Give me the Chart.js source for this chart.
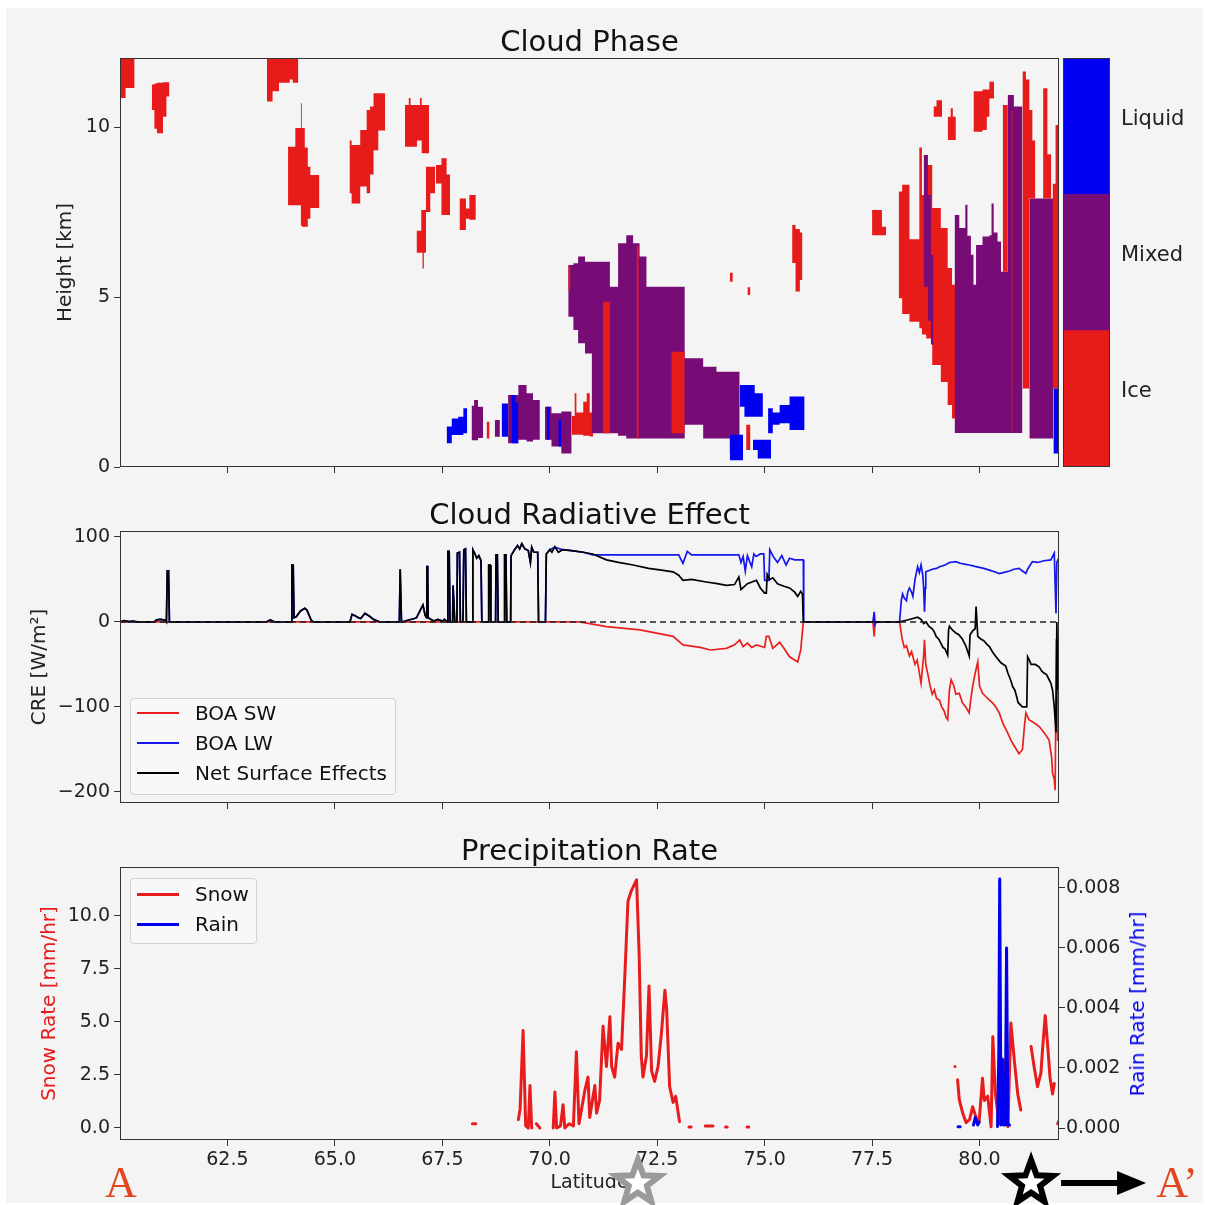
<!DOCTYPE html>
<html>
<head>
<meta charset="utf-8">
<script src="https://cdn.jsdelivr.net/npm/chart.js@4.4.1/dist/chart.umd.min.js"></script>
<style>
body { margin:0; background:#fff; width:1209px; height:1205px; position:relative; overflow:hidden; font-family:'DejaVu Sans', sans-serif; }
#bg { position:absolute; left:6px; top:8px; width:1197px; height:1195px; background:#f4f4f4; }
canvas { position:absolute; }
.legend { position:absolute; border:1px solid #d2d2d2; border-radius:4px; background:rgba(248,248,248,0.9); font-size:20px; color:#111; box-sizing:border-box; }
.legend .row { position:absolute; left:0; height:30px; display:flex; align-items:center; white-space:nowrap; }
.legend .sw { margin-left:6px; width:42px; margin-right:16px; }
.mark { position:absolute; transform:translate(-50%,-50%); font-family:'Liberation Serif', serif; font-size:44px; color:#e2461f; }
#rainTitle { position:absolute; left:1137px; top:1004px; transform:translate(-50%,-50%) rotate(-90deg); white-space:nowrap; font-size:20px; color:#0000ee; }
</style>
</head>
<body>
<div id="bg"></div>
<canvas id="phase" width="1179" height="490" style="left:0;top:0"></canvas>
<canvas id="cbar" width="169" height="490" style="left:1040px;top:0"></canvas>
<canvas id="cre" width="1179" height="345" style="left:0;top:480px"></canvas>
<canvas id="precip" width="1179" height="384" style="left:0;top:825px"></canvas>
<div class="legend" id="creLegend" style="left:130px;top:698px;width:266px;height:97px"></div>
<div class="legend" id="precipLegend" style="left:130px;top:878px;width:127px;height:66px"></div>
<div id="rainTitle">Rain Rate [mm/hr]</div>
<div class="mark" style="left:121px;top:1182px">A</div>
<div class="mark" style="left:1177px;top:1182px">A’</div>
<script>
// axes
const latTicks = [62.5, 65, 67.5, 70, 72.5, 75, 77.5, 80];
const heightTicks = [0, 5, 10];
const creTicks = [100, 0, -100, -200];
const snowTicks = [0, 2.5, 5, 7.5, 10];
const rainTicks = [0, 0.002, 0.004, 0.006, 0.008];

// cloud phase: [lat, bottom km, top km] per column step
const phaseNames = ['Ice', 'Mixed', 'Liquid'];
const phaseColors = ['#e81b1b', '#780c77', '#0000f2'];
const cbTicks = [0.55, 1.55, 2.55];

const iceCells = [
  [[60.0,10.85,12.1],[60.13,11.15,12.1],[60.34,11.15,12.1]],
  [[60.74,10.5,11.25],[60.8,9.95,11.28],[60.86,9.82,11.3],[61.0,10.3,11.32],[61.08,10.9,11.32],[61.15,10.9,11.32]],
  [[63.42,10.75,12.1],[63.55,11.05,12.1],[63.7,11.3,12.1],[63.95,11.4,12.1],[64.02,11.3,12.1],[64.15,11.3,12.1]],
  [[63.91,7.7,9.42],[64.08,7.7,9.97],[64.21,7.1,10.7],[64.23,7.07,9.97],[64.3,7.07,9.4],[64.37,7.3,8.83],[64.43,7.62,8.59],[64.64,7.62,8.59]],
  [[65.34,8.05,9.6],[65.39,7.75,9.47],[65.59,8.25,9.91],[65.74,8.05,10.5],[65.82,8.6,10.6],[65.9,9.32,10.99],[66.01,9.9,10.99],[66.17,9.9,10.99]],
  [[66.63,9.42,10.65],[66.72,9.42,10.85],[66.76,9.42,10.65],[66.91,9.6,10.65],[66.98,9.6,10.85],[67.02,9.23,10.65],[67.19,9.23,10.65]],
  [[66.9,6.3,6.95],[67.01,6.3,7.56],[67.04,5.84,7.56],[67.07,6.3,7.56],[67.12,7.5,8.83],[67.22,8.05,8.83],[67.33,8.05,8.83]],
  [[67.35,8.34,8.88],[67.48,7.41,9.08],[67.6,7.41,8.6],[67.68,7.41,8.6]],
  [[67.9,6.97,7.9],[68.05,7.3,7.6],[68.13,7.27,8.0],[68.28,7.27,8.0]],
  [[74.19,5.45,5.71],[74.26,5.45,5.71]],
  [[74.6,5.06,5.29],[74.67,5.06,5.29]],
  [[75.64,6.0,7.12],[75.72,5.16,7.0],[75.82,5.5,6.9],[75.88,5.5,6.9]],
  [[77.5,6.82,7.56],[77.73,6.82,7.07],[77.83,6.82,7.07]],
  [[78.12,4.96,8.1],[78.2,4.5,8.3],[78.37,4.27,6.7],[78.6,4.08,9.4],[78.66,3.9,8.0],[78.76,3.78,8.88],[78.9,3.0,7.62],[79.1,2.5,7.03],[79.26,1.82,5.85],[79.36,1.43,5.36],[79.45,1.43,5.36]],
  [[78.93,10.3,10.6],[79.0,10.3,10.79],[79.13,10.3,10.79]],
  [[79.26,9.62,10.3],[79.33,9.62,10.55],[79.38,9.62,10.3],[79.45,9.62,10.3]],
  [[79.86,9.86,11.05],[80.07,9.91,11.1],[80.17,10.3,11.1],[80.23,10.84,11.33],[80.34,10.84,11.33]],
  [[68.53,0.84,1.33],[68.6,0.84,1.33]],
  [[70.51,0.95,1.5],[70.58,0.95,2.17],[70.62,0.95,1.6],[70.78,0.92,1.92],[70.86,0.92,2.17],[70.93,0.9,1.6],[70.99,0.9,2.1],[71.01,0.9,2.1]],
  [[74.57,0.5,1.24],[74.67,0.5,1.24]]
];
const mixedCells = [
  [[68.18,0.79,1.8],[68.24,0.79,1.97],[68.33,0.85,1.77],[68.45,0.85,1.77]],
  [[68.72,0.89,1.38],[68.84,0.89,1.38]],
  [[69.03,0.7,2.12],[69.27,0.8,2.41],[69.46,0.75,2.17],[69.61,0.8,1.97],[69.77,0.8,1.97]],
  [[69.89,0.8,1.77],[70.04,0.6,1.58],[70.27,0.4,1.63],[70.51,0.4,1.63]],
  [[70.43,4.42,5.94],[70.55,4.03,5.99],[70.66,3.64,6.19],[70.82,3.34,6.04],[70.98,0.99,6.04],[71.4,0.99,5.3],[71.59,0.92,6.58],[71.78,0.84,6.82],[71.94,0.84,6.58],[72.09,0.84,6.19],[72.25,0.84,5.3],[73.14,1.24,3.2],[73.57,0.84,2.95],[73.88,0.84,2.8],[74.19,0.4,2.8],[74.42,0.4,2.8]],
  [[78.7,5.3,9.18],[78.8,4.3,8.0],[78.87,3.6,6.24],[78.93,3.6,6.24]],
  [[79.42,1.0,7.41],[79.53,1.0,7.03],[79.67,1.0,7.71],[79.72,1.0,6.8],[79.8,1.0,6.24],[79.86,1.0,5.36],[79.92,1.0,6.53],[80.07,1.0,6.78],[80.23,1.0,6.82],[80.28,1.0,7.75],[80.33,1.0,6.9],[80.42,1.0,6.63],[80.5,1.0,5.74],[80.66,1.0,10.94],[80.8,1.0,10.6],[81.0,1.0,10.6]],
  [[81.16,0.84,7.9],[81.72,0.84,7.9]]
];
const iceOverCells = [
  [[70.43,5.2,5.94],[70.48,5.2,5.94]],
  [[71.24,0.99,4.86],[71.4,0.99,4.86]],
  [[72.02,0.84,6.5],[72.07,0.84,6.5]],
  [[72.83,0.99,3.39],[73.14,0.99,3.39]],
  [[80.54,5.74,10.65],[80.66,5.74,10.65]],
  [[80.74,1.0,10.5],[80.77,1.0,10.5]],
  [[81.0,2.31,11.63],[81.08,2.31,11.4],[81.16,7.9,10.5],[81.23,7.9,9.6],[81.3,7.9,9.6]],
  [[81.48,7.9,11.14],[81.58,7.9,9.2],[81.67,7.9,9.2]],
  [[81.7,2.31,8.33],[81.77,2.31,10.06],[81.84,2.31,10.06]]
];
const liquidCells = [
  [[67.6,0.7,1.19],[67.72,0.94,1.43],[67.87,0.94,1.48],[67.99,0.99,1.73],[68.08,0.99,1.73]],
  [[68.88,0.89,1.87],[69.03,0.89,1.87]],
  [[69.11,0.7,2.12],[69.2,0.7,1.9],[69.27,0.7,1.9]],
  [[69.93,0.8,1.77],[70.0,0.8,1.77]],
  [[70.2,0.6,1.38],[70.27,0.6,1.38]],
  [[74.19,0.2,0.95],[74.5,0.2,0.95]],
  [[74.42,1.77,2.41],[74.53,1.48,2.41],[74.77,1.48,2.17],[74.96,1.48,2.17]],
  [[74.73,0.5,0.8],[74.84,0.25,0.8],[75.15,0.25,0.8]],
  [[75.08,0.99,1.73],[75.19,1.24,1.6],[75.35,1.29,1.82],[75.58,1.09,2.07],[75.93,1.09,2.07]],
  [[81.72,0.4,2.31],[81.84,0.4,2.31]]
];

// cloud radiative effect [lat, W/m2]
const creNames = ['BOA SW', 'BOA LW', 'Net Surface Effects'];
const creColors = ['#e8201e', '#1515ee', '#000000'];
// before 70N the shortwave is zero, so LW and net read the same
const earlyCre = [[60.0,0],[60.1,1.5],[60.2,0.5],[60.3,1],[60.4,0],[60.8,0],[60.85,2.5],[60.95,3],[61.05,2],[61.08,0],[61.1,60],[61.13,60],[61.15,0],
  [63.4,0],[63.5,2.5],[63.6,0],[63.98,0],[64.0,67],[64.03,67],[64.05,5],[64.1,6],[64.2,13],[64.3,16],[64.35,14],[64.4,8],[64.45,2],[64.5,0],
  [65.35,0],[65.4,9],[65.45,8],[65.55,5],[65.6,4],[65.7,10],[65.8,7],[65.9,3],[66.05,0],[66.5,0],[66.52,62],[66.55,0],[66.7,2],[66.85,4],[66.9,5],
  [67.0,15],[67.05,20],[67.1,8],[67.13,5],[67.14,65],[67.16,65],[67.17,5],[67.3,1],[67.4,3],[67.5,1],[67.55,3],[67.62,0],[67.63,83],[67.66,83],[67.68,0],
  [67.74,0],[67.75,43],[67.77,43],[67.79,0],[67.84,0],[67.85,81],[67.9,82],[67.92,0],[67.98,0],[68.0,85],[68.04,86],[68.06,0],[68.2,0],[68.21,85],
  [68.26,80],[68.3,75],[68.35,78],[68.4,72],[68.42,0],[68.57,0],[68.58,67],[68.61,67],[68.63,0],[68.74,0],[68.75,79],[68.78,79],[68.8,0],[68.94,0],
  [68.95,79],[68.98,79],[69.0,0],[69.09,0],[69.1,78],[69.17,84],[69.25,90],[69.3,86],[69.35,92],[69.42,86],[69.5,84],[69.55,70],[69.58,88],[69.63,82],
  [69.72,82],[69.74,0],[69.9,0]];
const swCre = [[60.0,0],[70.7,0],[71.32,-5.5],[72.1,-9.4],[72.87,-17],[73.1,-27],[73.5,-30],[73.74,-33],[74.11,-31],[74.3,-27],[74.42,-21],[74.5,-29],
  [74.6,-25],[74.7,-30],[74.81,-27],[75.0,-30],[75.04,-17],[75.1,-17],[75.19,-31],[75.35,-24],[75.45,-31],[75.58,-41],[75.77,-47],[75.84,-33],[75.9,0],
  [77.52,0],[77.55,-17],[77.57,0],[78.14,0],[78.2,-20],[78.25,-30],[78.3,-28],[78.37,-40],[78.42,-35],[78.5,-50],[78.55,-45],[78.6,-60],[78.64,-72],
  [78.7,-40],[78.72,-21],[78.75,-50],[78.8,-62],[78.85,-75],[78.9,-85],[78.95,-80],[79.0,-90],[79.07,-92],[79.12,-100],[79.18,-105],[79.22,-112],
  [79.26,-115],[79.3,-80],[79.34,-68],[79.4,-75],[79.45,-85],[79.53,-84],[79.6,-95],[79.68,-100],[79.76,-107],[79.8,-90],[79.84,-76],[79.9,-60],
  [79.96,-47],[80.0,-75],[80.07,-84],[80.15,-88],[80.23,-92],[80.3,-95],[80.38,-100],[80.46,-107],[80.55,-120],[80.65,-130],[80.73,-139],[80.8,-145],
  [80.86,-150],[80.92,-155],[81.0,-150],[81.05,-120],[81.08,-107],[81.15,-115],[81.25,-118],[81.39,-123],[81.5,-130],[81.62,-139],[81.68,-160],
  [81.7,-178],[81.74,-185],[81.76,-198],[81.79,-20],[81.82,-140],[81.84,-60]];
const lwLateCre = [[69.92,80],[70.0,85],[70.12,88],[70.3,85],[70.5,84],[70.78,82],[71.0,79],[73.0,79],[73.1,69],[73.2,83],[73.3,79],[74.4,79],[74.45,70],
  [74.5,77],[74.55,60],[74.6,78],[74.7,65],[74.75,80],[74.8,77],[74.9,80],[74.98,80],[75.0,49],[75.1,49],[75.12,85],[75.2,77],[75.3,70],[75.4,78],
  [75.5,67],[75.58,75],[75.7,73],[75.9,73],[75.91,0],[77.52,0],[77.55,12],[77.57,-3],[77.6,0],[78.14,0],[78.18,25],[78.21,33],[78.25,28],[78.3,25],
  [78.33,35],[78.37,40],[78.42,35],[78.45,30],[78.5,50],[78.56,65],[78.6,58],[78.64,67],[78.68,55],[78.7,40],[78.72,12],[78.74,40],[78.75,59],[78.8,60],
  [78.9,62],[79.0,63],[79.07,65],[79.2,67],[79.3,70],[79.45,71],[79.55,69],[79.65,68],[79.76,67],[79.85,66],[79.92,65],[80.1,63],[80.23,61],[80.35,59],
  [80.46,57],[80.55,58],[80.7,60],[80.8,62],[80.92,63],[81.0,60],[81.08,57],[81.12,62],[81.23,71],[81.35,70],[81.5,72],[81.66,73],[81.74,81],[81.78,10],
  [81.8,70],[81.84,75]];
const netLateCre = [[69.92,80],[70.0,85],[70.05,82],[70.12,88.6],[70.2,82],[70.3,85],[70.5,84],[70.78,82],[71.0,80],[71.32,73],[71.6,70],[71.94,67],
  [72.3,63],[72.6,61],[72.87,59],[73.0,55],[73.1,49],[73.3,50],[73.64,47],[73.9,45],[74.11,43],[74.3,44],[74.4,53],[74.45,38],[74.6,45],[74.81,49],
  [74.9,40],[75.0,34],[75.04,34],[75.06,56],[75.12,50],[75.19,52],[75.3,45],[75.45,42],[75.58,40],[75.7,35],[75.77,30],[75.84,36],[75.88,33],[75.9,0],
  [78.14,0],[78.3,2],[78.45,4],[78.56,5.5],[78.64,3],[78.7,-2],[78.76,0],[78.82,-5],[78.9,-8],[78.95,-12],[78.99,-17],[79.05,-20],[79.1,-25],[79.15,-30],
  [79.2,-32],[79.26,-39],[79.28,-10],[79.3,-5],[79.38,-10],[79.45,-13],[79.52,-15],[79.6,-20],[79.68,-28],[79.76,-40],[79.78,-15],[79.85,-10],[79.9,-8],
  [79.92,18],[79.94,18],[79.96,-17],[80.03,-20],[80.1,-22],[80.17,-26],[80.23,-29],[80.3,-35],[80.4,-42],[80.5,-48],[80.61,-52],[80.66,-60],[80.7,-65],
  [80.75,-72],[80.77,-76],[80.82,-80],[80.85,-85],[80.9,-95],[81.0,-100],[81.1,-100],[81.12,-41],[81.16,-45],[81.2,-50],[81.3,-50],[81.39,-53],[81.45,-58],
  [81.5,-60],[81.56,-62],[81.62,-68],[81.66,-72],[81.7,-80],[81.74,-100],[81.78,-130],[81.8,0],[81.82,-80],[81.84,-50]];

// precipitation [lat, mm/hr], null = no data
const precipNames = ['Snow', 'Rain'];
const precipColors = ['#e81c1c', '#0000ee'];
const snowRate = [[68.2,0.2],[68.28,0.2],[68.3,null],
  [69.27,0.4],[69.31,0.9],[69.38,4.6],[69.44,0.1],[69.5,0.0],[69.54,2.0],[69.58,0.0],[69.6,null],[69.69,0.2],[69.77,0.0],[69.8,null],
  [70.08,0.0],[70.12,1.7],[70.16,0.0],[70.25,0.1],[70.31,1.1],[70.35,0.0],[70.45,0.2],[70.55,0.1],[70.62,3.6],[70.68,0.2],[70.82,1.8],[70.89,2.4],
  [70.93,0.5],[71.05,2.0],[71.09,0.7],[71.16,1.3],[71.24,4.8],[71.32,2.9],[71.4,5.25],[71.44,2.9],[71.51,2.4],[71.59,4.0],[71.67,3.7],[71.75,7.3],
  [71.82,10.7],[71.9,11.2],[72.02,11.7],[72.08,8.2],[72.13,3.4],[72.17,2.4],[72.25,3.4],[72.31,6.7],[72.37,2.7],[72.44,2.2],[72.52,2.9],[72.6,4.5],
  [72.68,6.5],[72.72,5.6],[72.79,1.95],[72.87,1.2],[72.93,1.5],[73.02,0.3],[73.05,null],
  [73.24,0.05],[73.29,0.05],[73.3,null],[73.62,0.1],[73.8,0.1],[73.85,null],[74.09,0.05],[74.13,0.05],[74.15,null],[74.59,0.05],[74.63,0.05],[74.65,null],
  [79.43,2.9],[79.45,2.9],[79.47,null],
  [79.49,2.27],[79.53,1.33],[79.61,0.7],[79.69,0.25],[79.77,0.4],[79.84,1.0],[79.92,0.5],[79.99,0.25],[80.07,2.35],[80.11,1.3],[80.19,1.5],[80.27,0.06],
  [80.31,4.3],[80.37,1.6],[80.46,0.2],[80.52,1.0],[80.58,3.2],[80.66,0.06],[80.73,4.95],[80.81,3.2],[80.89,1.6],[80.96,0.85],[81.0,null],
  [81.2,3.84],[81.27,2.9],[81.35,1.95],[81.43,2.6],[81.47,3.8],[81.53,5.3],[81.59,3.8],[81.64,2.4],[81.7,1.6],[81.74,2.1],[81.76,null],[81.82,0.2],[81.84,0.3]];
const rainRate = [[79.5,0.00004],[79.55,0.00004],[79.57,null],[79.86,0.0001],[79.9,0.00035],[79.96,0.0001],[79.99,0.0002],[80.0,null],
  [80.42,0.00005],[80.45,0.0026],[80.47,0.0083],[80.5,0.0001],[80.53,0.0023],[80.56,0.0001],[80.6,0.0001],[80.63,0.006],[80.66,0.0001],[80.7,0.0001]];

// transect markers under the latitude axis
const starLats = [72.05, 81.2];
const starColors = ['#9a9a9a', '#000000'];

Chart.defaults.font.family = "'DejaVu Sans', sans-serif";
Chart.defaults.color = '#222';

const pts = arr => arr.map(p => ({x: p[0], y: p[1]}));

const framePlugin = {
  id: 'frame',
  afterDraw(chart) {
    const {ctx, chartArea: a} = chart;
    ctx.save();
    ctx.strokeStyle = '#333';
    ctx.lineWidth = 1;
    ctx.strokeRect(Math.round(a.left) + 0.5, Math.round(a.top) + 0.5, Math.round(a.right - a.left) - 1, Math.round(a.bottom - a.top) - 1);
    ctx.restore();
  }
};

function latAxis(h, labels) {
  return {
    type: 'linear', min: 60, max: 81.85,
    afterBuildTicks: s => { s.ticks = latTicks.map(v => ({value: v})); },
    afterFit: s => { s.height = h; },
    grid: {drawOnChartArea: false, color: '#333', tickLength: 6},
    border: {display: false},
    ticks: {display: labels, padding: 3, autoSkip: false, maxRotation: 0, font: {size: 19}, callback: v => v.toFixed(1)},
    title: {display: labels, text: 'Latitude', font: {size: 19}, padding: {top: 0, bottom: 14.6}}
  };
}
function valueAxis(pos, min, max, tickVals, fmt, title, titleColor, titlePad) {
  return {
    type: 'linear', position: pos, min: min, max: max,
    afterBuildTicks: s => { s.ticks = tickVals.map(v => ({value: v})); },
    afterFit: s => { s.width = 120; },
    grid: {drawOnChartArea: false, color: '#333', tickLength: 6},
    border: {display: false},
    ticks: {padding: pos === 'left' ? 4 : 1, autoSkip: false, font: {size: 19}, callback: fmt},
    title: {display: !!title, text: title, color: titleColor, font: {size: 20}, padding: {top: titlePad, bottom: 0}}
  };
}
const spacer = {
  type: 'linear', position: 'right', display: true,
  afterFit: s => { s.width = 120; },
  grid: {display: false}, border: {display: false}, ticks: {display: false}
};
function titleOpt(text, top) {
  return {display: true, text: text, color: '#111', font: {size: 29, weight: 'normal', lineHeight: 1}, padding: {top: top, bottom: 0.5}};
}

// --- Cloud phase ---
const phaseSets = [];
[[iceCells, 0], [mixedCells, 1], [iceOverCells, 0], [liquidCells, 2]].forEach(([cells, p]) => {
  cells.forEach(blob => {
    phaseSets.push({data: blob.map(r => ({x: r[0], y: r[1]})), stepped: true, borderWidth: 0, borderColor: 'rgba(0,0,0,0)', pointRadius: 0, fill: false});
    phaseSets.push({data: blob.map(r => ({x: r[0], y: r[2]})), stepped: true, borderWidth: 0, borderColor: 'rgba(0,0,0,0)', pointRadius: 0,
      fill: '-1', backgroundColor: phaseColors[p]});
  });
});
phaseSets.forEach((d, i) => { d.order = phaseSets.length - i; });

new Chart(document.getElementById('phase'), {
  type: 'line',
  data: {datasets: phaseSets},
  options: {
    responsive: false, animation: false, events: [],
    plugins: {legend: {display: false}, tooltip: {enabled: false}, title: titleOpt('Cloud Phase', 28.5)},
    scales: {
      x: latAxis(23, false),
      y: valueAxis('left', 0, 12.03, heightTicks, v => String(v), 'Height [km]', '#222', 54),
      yR: spacer
    }
  },
  plugins: [framePlugin]
});

new Chart(document.getElementById('cbar'), {
  type: 'bar',
  data: {labels: [''], datasets: phaseNames.map((n, i) => ({label: n, data: [1], backgroundColor: phaseColors[i], borderWidth: 0, barPercentage: 1, categoryPercentage: 1}))},
  options: {
    responsive: false, animation: false, events: [],
    layout: {padding: {left: 23, top: 58, bottom: 23}},
    plugins: {legend: {display: false}, tooltip: {enabled: false}},
    scales: {
      x: {display: false, stacked: true},
      y: {position: 'right', stacked: true, min: 0, max: 3,
        afterBuildTicks: s => { s.ticks = cbTicks.map(v => ({value: v})); },
        afterFit: s => { s.width = 99; },
        grid: {display: false}, border: {display: false},
        ticks: {padding: 3, font: {size: 21}, callback: (v, i) => phaseNames[i]}}
    }
  },
  plugins: [framePlugin]
});

// --- Cloud radiative effect ---
const lwCre = earlyCre.concat(lwLateCre);
const netCre = earlyCre.concat(netLateCre);
new Chart(document.getElementById('cre'), {
  type: 'line',
  data: {datasets: [
    {label: creNames[0], data: pts(swCre), borderColor: creColors[0], borderWidth: 1.7, pointRadius: 0, order: 3},
    {label: creNames[1], data: pts(lwCre), borderColor: creColors[1], borderWidth: 1.7, pointRadius: 0, order: 2},
    {label: creNames[2], data: pts(netCre), borderColor: creColors[2], borderWidth: 1.7, pointRadius: 0, order: 1},
    {label: 'zero', data: [{x: 60, y: 0}, {x: 81.85, y: 0}], borderColor: '#222', borderWidth: 1.4, borderDash: [6, 4], pointRadius: 0, order: 0}
  ]},
  options: {
    responsive: false, animation: false, events: [],
    plugins: {legend: {display: false}, tooltip: {enabled: false}, title: titleOpt('Cloud Radiative Effect', 21.5)},
    scales: {
      x: latAxis(22, false),
      y: valueAxis('left', -213, 107, creTicks, v => String(v).replace('-', '\u2212'), 'CRE [W/m\u00b2]', '#222', 28),
      yR: spacer
    }
  },
  plugins: [framePlugin]
});

// --- Precipitation ---
function drawStar(ctx, x, y, R, r, color) {
  ctx.beginPath();
  for (let k = 0; k < 10; k++) {
    const ang = -Math.PI / 2 + k * Math.PI / 5;
    const rad = k % 2 === 0 ? R : r;
    ctx.lineTo(x + rad * Math.cos(ang), y + rad * Math.sin(ang));
  }
  ctx.closePath();
  ctx.fillStyle = '#fff';
  ctx.fill();
  ctx.lineWidth = 6;
  ctx.lineJoin = 'miter';
  ctx.strokeStyle = color;
  ctx.stroke();
}
const markerPlugin = {
  id: 'markers',
  afterDraw(chart) {
    const ctx = chart.ctx, xs = chart.scales.x;
    const y = chart.height - 26;
    ctx.save();
    starLats.forEach((lat, i) => drawStar(ctx, xs.getPixelForValue(lat), y, 23, 9.5, starColors[i]));
    const x0 = xs.getPixelForValue(starLats[1]) + 30;
    ctx.strokeStyle = '#000';
    ctx.lineWidth = 6;
    ctx.beginPath(); ctx.moveTo(x0, y); ctx.lineTo(x0 + 60, y); ctx.stroke();
    ctx.fillStyle = '#000';
    ctx.beginPath(); ctx.moveTo(x0 + 56, y - 12); ctx.lineTo(x0 + 85, y); ctx.lineTo(x0 + 56, y + 12); ctx.closePath(); ctx.fill();
    ctx.restore();
  }
};
new Chart(document.getElementById('precip'), {
  type: 'line',
  data: {datasets: [
    {label: precipNames[0], data: pts(snowRate), yAxisID: 'y', borderColor: precipColors[0], borderWidth: 3, borderJoinStyle: 'round', borderCapStyle: 'round', pointRadius: 0, order: 2},
    {label: precipNames[1], data: pts(rainRate), yAxisID: 'y1', borderColor: precipColors[1], borderWidth: 3, borderJoinStyle: 'round', borderCapStyle: 'round', pointRadius: 0, order: 1}
  ]},
  options: {
    responsive: false, animation: false, events: [],
    plugins: {legend: {display: false}, tooltip: {enabled: false}, title: titleOpt('Precipitation Rate', 12.5)},
    scales: {
      x: latAxis(69, true),
      y: valueAxis('left', -0.566, 12.31, snowTicks, v => v.toFixed(1), 'Snow Rate [mm/hr]', precipColors[0], 38),
      y1: valueAxis('right', -0.0004, 0.0087, rainTicks, v => v.toFixed(3), '', '#222', 0)
    }
  },
  plugins: [framePlugin, markerPlugin]
});

// legends
function fillLegend(id, names, colors, lw, firstY) {
  const box = document.getElementById(id);
  names.forEach((n, i) => {
    const row = document.createElement('div');
    row.className = 'row';
    row.style.top = (firstY + i * 30 - 15) + 'px';
    row.innerHTML = '<div class="sw" style="height:' + lw + 'px;background:' + colors[i] + '"></div><span>' + n + '</span>';
    box.appendChild(row);
  });
}
fillLegend('creLegend', creNames, creColors, 2, 14);
fillLegend('precipLegend', precipNames, precipColors, 3, 15);
</script>
</body>
</html>
